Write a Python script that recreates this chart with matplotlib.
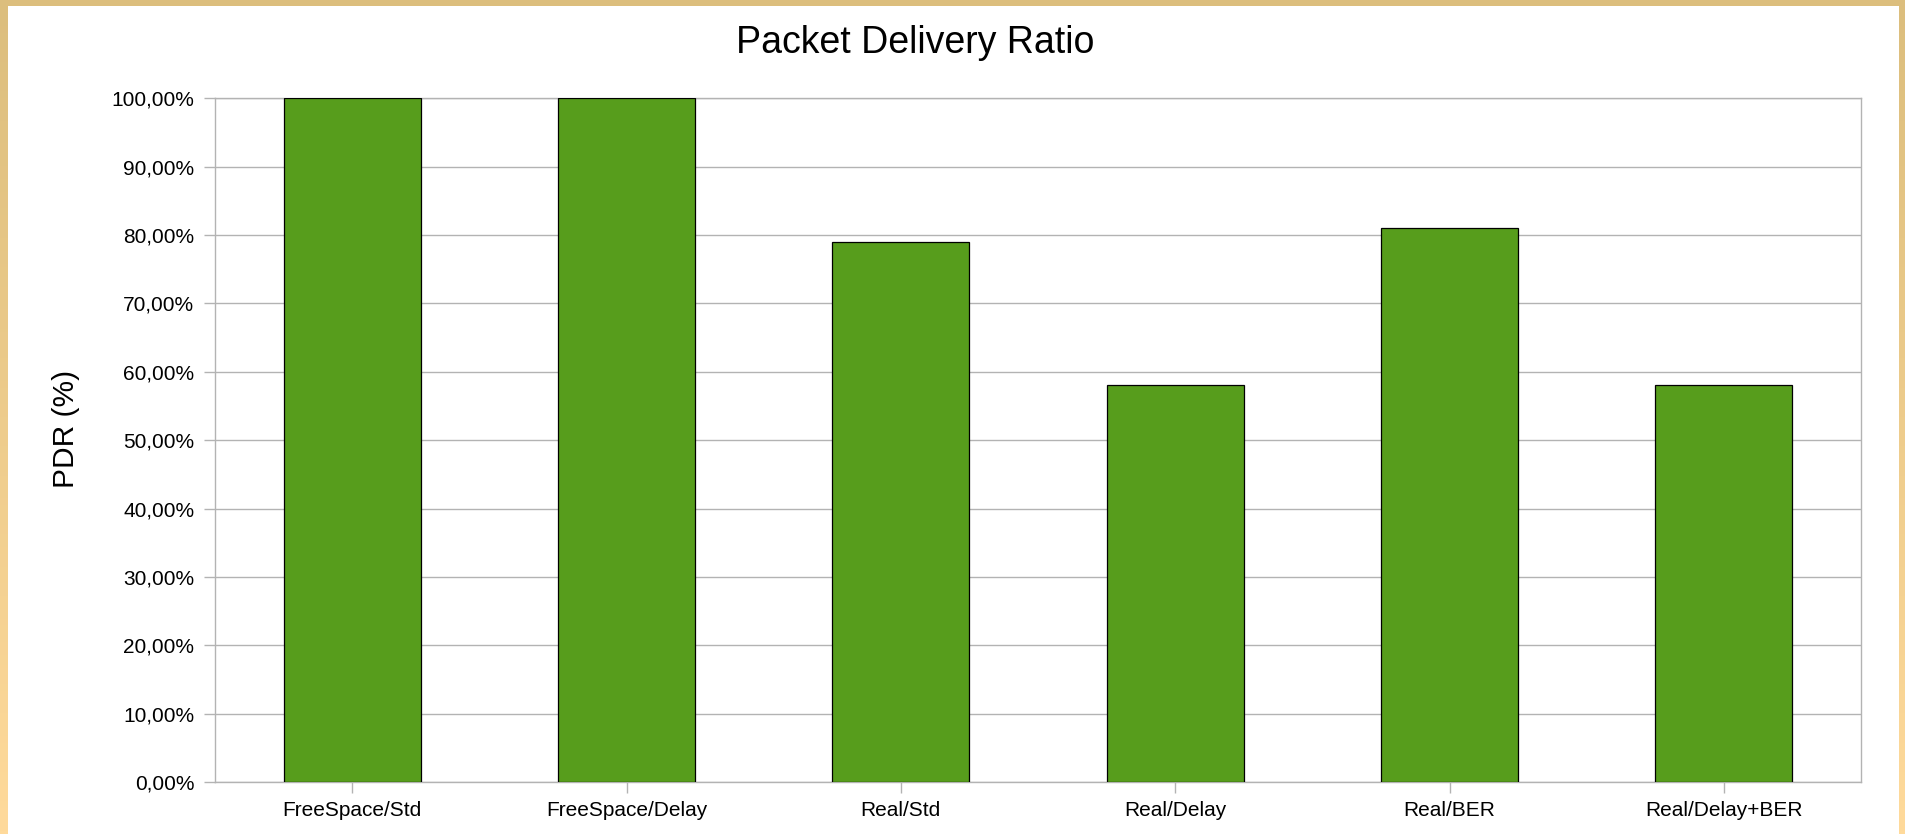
import matplotlib
matplotlib.use("Agg")
import matplotlib.pyplot as plt
import numpy as np
from matplotlib.ticker import FuncFormatter
from matplotlib.patches import Rectangle

# ---------- data ----------
categories = ["FreeSpace/Std", "FreeSpace/Delay", "Real/Std",
              "Real/Delay", "Real/BER", "Real/Delay+BER"]
pdr = [100, 100, 79, 58, 81, 58]          # %
y_ticks = list(range(0, 101, 10))

plt.rcParams['font.family'] = ['Liberation Sans', 'DejaVu Sans']

fig = plt.figure(figsize=(19.05, 8.34), dpi=100)

# ---------- frame (tan gradient border) ----------
bg = fig.add_axes([0, 0, 1, 1], zorder=-10)
grad = np.linspace(0, 1, 256).reshape(-1, 1)
top_c = np.array([220, 190, 125]) / 255
bot_c = np.array([255, 218, 155]) / 255
img = top_c[None, None, :] * (1 - grad[:, :, None]) + bot_c[None, None, :] * grad[:, :, None]
bg.imshow(img, aspect='auto', extent=[0, 1, 0, 1], origin='upper')
bg.add_patch(Rectangle((8 / 1905, 0), (1899 - 8) / 1905, 1 - 6 / 834,
                       facecolor='white', edgecolor='none'))
bg.set_xlim(0, 1); bg.set_ylim(0, 1)
bg.axis('off')

# ---------- bars ----------
ax = fig.add_axes([215 / 1905, 1 - 782 / 834, (1861 - 215) / 1905, (782 - 98.3) / 834])
x = np.arange(len(categories))
ax.bar(x, pdr, width=0.5, color='#579d1c', edgecolor='black', linewidth=0.9, zorder=3)

ax.set_xlim(-0.5, len(categories) - 0.5)
ax.set_ylim(0, 100)
ax.set_yticks(y_ticks)
ax.yaxis.set_major_formatter(FuncFormatter(lambda v, _: f"{v:.2f}%".replace('.', ',')))
ax.set_xticks(x)
ax.set_xticklabels(categories)
ax.grid(axis='y', color='#b3b3b3', linewidth=1.0, zorder=0)
for s in ax.spines.values():
    s.set_color('#b3b3b3'); s.set_linewidth(1.0)
ax.tick_params(axis='both', colors='#b3b3b3', labelcolor='black', labelsize=15,
               length=8, width=1.0)
ax.tick_params(axis='y', pad=7)
ax.tick_params(axis='x', pad=6)

fig.text(915 / 1905, 1 - 43 / 834, "Packet Delivery Ratio", fontsize=27,
         ha='center', va='center')
fig.text(66 / 1905, 1 - 429 / 834, "PDR (%)", fontsize=21.5, rotation=90,
         ha='center', va='center')

fig.savefig("out.png", dpi=100)
